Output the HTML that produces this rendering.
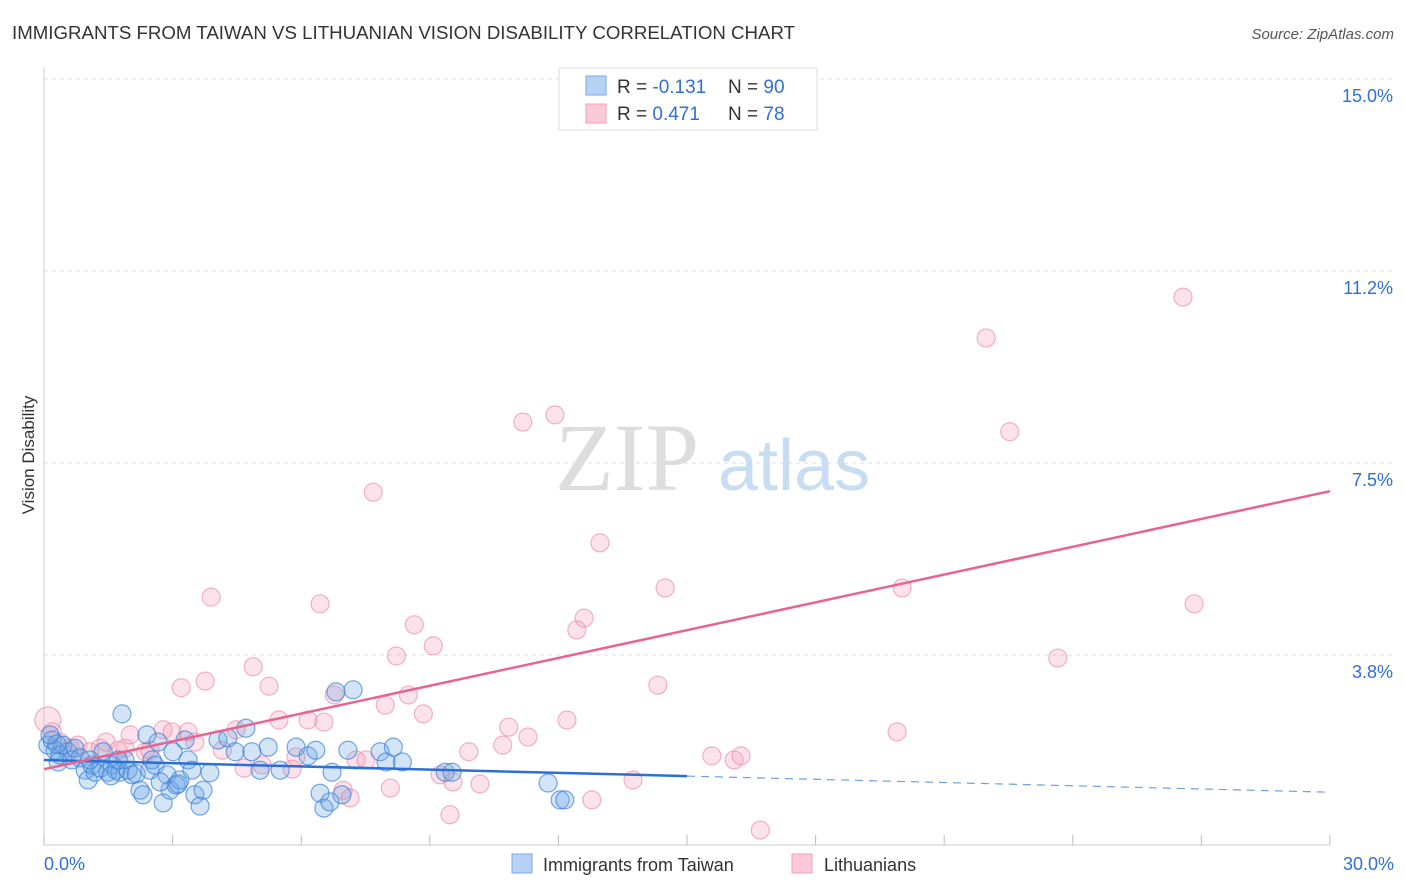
<!DOCTYPE html>
<html><head><meta charset="utf-8"><style>
body{margin:0;background:#fff;font-family:"Liberation Sans",sans-serif}
svg{display:block}
</style></head><body>
<svg id="chart" width="1406" height="892">
<text x="12" y="39" font-size="18" fill="#333" textLength="783" lengthAdjust="spacingAndGlyphs">IMMIGRANTS FROM TAIWAN VS LITHUANIAN VISION DISABILITY CORRELATION CHART</text>
<text x="1394" y="39" font-size="15" fill="#555" font-style="italic" text-anchor="end">Source: ZipAtlas.com</text>
<text transform="translate(34,455) rotate(-90)" font-size="17" fill="#333" text-anchor="middle">Vision Disability</text>
<g id="grid"></g>
<text x="555" y="490" font-size="96" fill="#ddd" font-family="Liberation Serif,serif">ZIP</text>
<text x="718" y="490" font-size="72" fill="#c8dcf2">atlas</text>
<g id="marks"></g>
<g>
<rect x="559" y="68" width="258" height="62" fill="#fff" stroke="#ddd"/>
<rect x="586" y="76" width="20" height="19" fill="#b5d2f5" stroke="#7aa8e6"/>
<rect x="586" y="104" width="20" height="19" fill="#fbc9d7" stroke="#f2a2ba"/>
<text x="617" y="93" font-size="19" fill="#333">R = <tspan fill="#2f6fd6">-0.131</tspan></text>
<text x="728" y="93" font-size="19" fill="#333">N = <tspan fill="#2f6fd6">90</tspan></text>
<text x="617" y="120" font-size="19" fill="#333">R = <tspan fill="#2f6fd6"> 0.471</tspan></text>
<text x="728" y="120" font-size="19" fill="#333">N = <tspan fill="#2f6fd6">78</tspan></text>
</g>
<g>
<rect x="512" y="854" width="20" height="19" fill="#b5d2f5" stroke="#7aa8e6"/>
<text x="543" y="871" font-size="18" fill="#333">Immigrants from Taiwan</text>
<rect x="792" y="854" width="20" height="19" fill="#fbc9d7" stroke="#f2a2ba"/>
<text x="824" y="871" font-size="18" fill="#333">Lithuanians</text>
</g>
</svg>
<script>
const yTicks=[3.75,7.5,11.25,15];
const yTickLabels=["3.8%","7.5%","11.2%","15.0%"];
const xTickLabels=["0.0%","30.0%"];
const blueX=[0.09,0.19,0.26,0.37,0.44,0.56,0.65,0.72,0.84,0.96,1.03,1.12,1.19,1.31,1.38,1.49,1.59,1.68,1.77,1.82,1.89,1.96,2.05,2.15,2.24,2.31,2.40,2.47,2.52,2.59,2.66,2.78,2.87,2.94,3.01,3.08,3.17,3.29,3.36,3.45,3.52,3.64,3.71,3.87,4.06,4.29,4.46,4.71,4.85,5.04,5.23,5.51,5.88,6.16,6.34,6.44,6.53,6.67,6.72,6.81,6.95,7.09,7.21,7.84,7.98,8.15,8.36,9.36,9.52,11.76,12.04,12.15,0.33,1.07,1.56,1.73,2.71,3.13,0.30,0.14];
const blueY=[1.99,2.09,1.89,1.80,1.99,1.86,1.70,1.93,1.74,1.50,1.31,1.60,1.46,1.54,1.86,1.46,1.60,1.50,1.46,2.60,1.70,1.50,1.41,1.43,1.11,1.02,2.19,1.50,1.70,1.60,2.05,0.86,1.41,1.11,1.86,1.21,1.31,2.09,1.70,1.50,1.02,0.80,1.11,1.45,2.09,2.13,1.86,2.32,1.86,1.50,1.95,1.50,1.95,1.78,1.89,1.05,0.76,0.88,1.46,3.03,1.02,1.89,3.07,1.86,1.66,1.95,1.66,1.46,1.46,1.25,0.92,0.92,1.66,1.70,1.39,1.70,1.27,1.23,2.01,2.19];
const pinkX=[0.09,0.19,0.37,0.61,0.79,1.07,1.31,1.45,1.73,1.89,2.01,2.36,2.47,2.78,2.99,3.20,3.36,3.52,3.76,3.90,4.16,4.48,4.67,4.88,5.09,5.25,5.48,5.79,5.88,6.16,6.44,6.53,6.77,6.98,7.14,7.28,7.51,7.68,7.96,8.08,8.22,8.50,8.64,8.85,9.08,9.24,9.47,9.54,9.91,10.17,10.70,10.84,11.17,11.29,11.92,12.20,12.43,12.60,12.78,12.97,13.74,14.32,14.49,15.58,16.10,16.26,16.71,19.90,20.02,21.98,22.53,23.65,26.57,26.83];
const pinkY=[2.48,2.25,2.05,1.93,1.99,1.86,1.93,2.05,1.89,1.93,2.19,1.86,1.89,2.29,2.25,3.11,2.25,2.05,3.24,4.88,1.89,2.29,1.54,3.52,1.60,3.14,2.48,1.52,1.76,2.48,4.75,2.44,2.97,1.11,0.96,1.70,1.70,6.93,2.77,1.15,3.73,2.97,4.34,2.60,3.93,1.41,0.63,1.27,1.86,1.23,1.99,2.34,8.30,2.15,8.44,2.48,4.24,4.47,0.92,5.94,1.31,3.16,5.06,1.78,1.70,1.78,0.33,2.25,5.06,9.94,8.11,3.69,10.74,4.75];
const blueTrend=[1.70,1.07];
const pinkTrend=[1.52,6.95];
const NS="http://www.w3.org/2000/svg";
const X=v=>44+v/30*1286, Y=v=>847-v*51.2;
function mk(t,a,p){const e=document.createElementNS(NS,t);for(const k in a)e.setAttribute(k,a[k]);p.appendChild(e);return e;}
const g=document.getElementById('grid'), m=document.getElementById('marks');
yTicks.forEach((t,i)=>{
 const l=mk('line',{x1:44,x2:1394,y1:Y(t),y2:Y(t),stroke:'#ddd','stroke-dasharray':'4,4'},g);
 
 
 const tx=mk('text',{x:1393,y:Y(t)+23,'font-size':18,fill:'#2f6fd6','text-anchor':'end'},g);tx.textContent=yTickLabels[i];
 
 
});
const ax=mk('line',{x1:44,x2:44,y1:68,y2:845,stroke:'#ccc'},g);


const bx=mk('line',{x1:44,x2:1330,y1:845,y2:845,stroke:'#ccc'},g);


for(let i=0;i<=10;i++){const t=mk('line',{x1:X(i*3),x2:X(i*3),y1:835,y2:845,stroke:'#bbb'},g);
 
 }
[[0,'start',44],[30,'end',1394]].forEach((d,i)=>{const t=mk('text',{x:d[2],y:870,'font-size':18,fill:'#2f6fd6','text-anchor':d[1]},g);t.textContent=xTickLabels[i];
 
 });
pinkX.forEach((x,i)=>{const c=mk('circle',{cx:X(x),cy:Y(pinkY[i]),r:i==0?13:9,fill:'rgba(245,160,185,0.3)',stroke:'rgba(235,130,160,0.6)','stroke-width':1.2},m);
 
 });
blueX.forEach((x,i)=>{const c=mk('circle',{cx:X(x),cy:Y(blueY[i]),r:9,fill:'rgba(110,165,230,0.3)',stroke:'rgba(60,130,220,0.7)','stroke-width':1.2},m);
 
 });
const bY=x=>blueTrend[0]+(blueTrend[1]-blueTrend[0])*x/30;
const bl=mk('line',{x1:X(0),y1:Y(bY(0)),x2:X(15),y2:Y(bY(15)),stroke:'#2a6fd8','stroke-width':2.5},m);


const bd=mk('line',{x1:X(15),y1:Y(bY(15)),x2:X(30),y2:Y(bY(30)),stroke:'#6fa0e0','stroke-width':1.2,'stroke-dasharray':'8,6'},m);


const pl=mk('line',{x1:X(0),y1:Y(pinkTrend[0]),x2:X(30),y2:Y(pinkTrend[1]),stroke:'#e8648f','stroke-width':2.5},m);


</script>
</body></html>
